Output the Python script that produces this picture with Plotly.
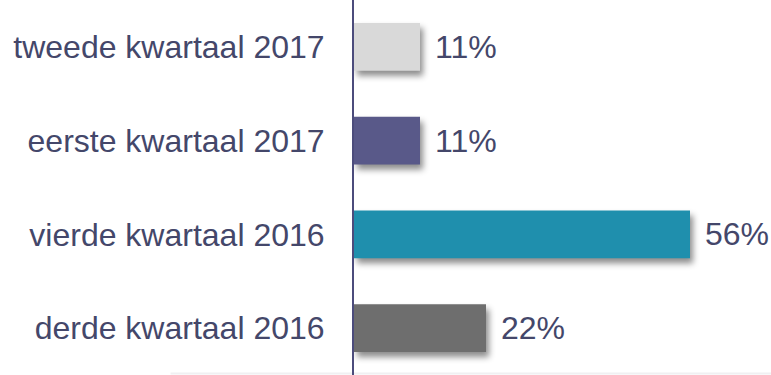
import plotly.graph_objects as go

# Quarterly shares, listed bottom to top
categories = ["derde kwartaal 2016", "vierde kwartaal 2016", "eerste kwartaal 2017", "tweede kwartaal 2017"]
values = [22, 56, 11, 11]
colors = ["#6E6E6E", "#1F8FAD", "#595989", "#D9D9D9"]

text_color = "#44476A"
font_family = "Liberation Sans, Arial, sans-serif"

fig = go.Figure(
    go.Bar(
        y=categories,
        x=values,
        orientation="h",
        marker=dict(color=colors, line=dict(width=0)),
        hoverinfo="skip",
    )
)

# value labels to the right of each bar
for cat, val in zip(categories, values):
    fig.add_annotation(
        x=val, y=cat, text=f"{val}%", showarrow=False,
        xanchor="left", xshift=13,
        font=dict(family=font_family, size=32, color=text_color),
    )

# faint baseline along the bottom edge
fig.add_shape(
    type="line", xref="paper", yref="paper",
    x0=-0.44, x1=1, y0=0.004, y1=0.004,
    line=dict(color="#F0F0F2", width=2), layer="below",
)

fig.update_layout(
    width=771, height=375,
    margin=dict(l=354, r=0, t=0, b=0),
    paper_bgcolor="white", plot_bgcolor="white",
    bargap=0.49,
    showlegend=False,
    xaxis=dict(range=[0, 69.5], visible=False, fixedrange=True),
    yaxis=dict(
        categoryorder="array", categoryarray=categories,
        showline=True, linecolor="#4C4C7C", linewidth=2,
        showgrid=False, zeroline=False, ticks="",
        ticklabelstandoff=21,
        tickfont=dict(family=font_family, size=32, color=text_color),
        fixedrange=True,
    ),
)

# soft drop shadow under the bars
shadow_js = """
var s = document.createElement('style');
s.textContent = '.barlayer .point path{filter:drop-shadow(3px 5px 3px rgba(0,0,0,0.45));}';
document.head.appendChild(s);
"""

fig.write_html("out.html", post_script=shadow_js, config={"displayModeBar": False})
